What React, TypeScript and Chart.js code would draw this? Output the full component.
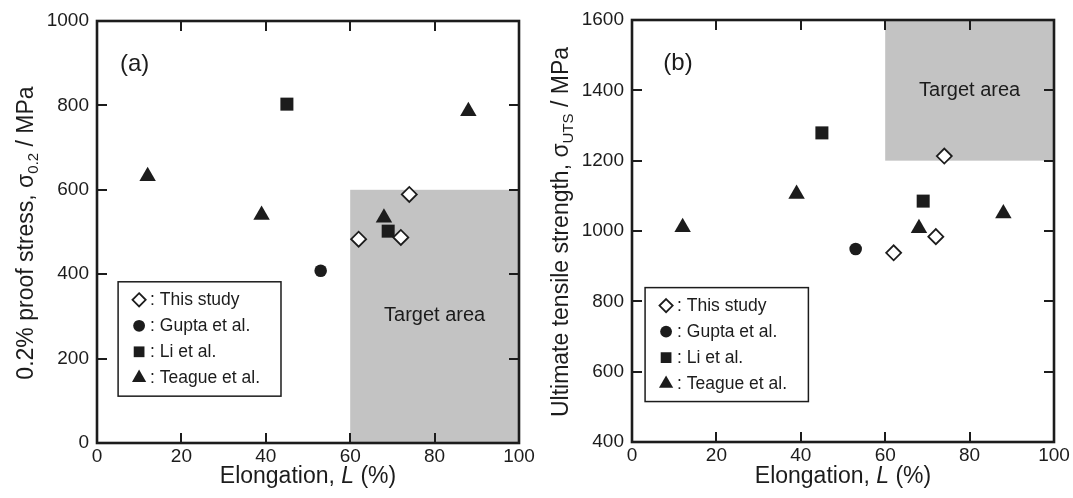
import React, { useEffect, useRef } from 'react';
import { Chart, registerables } from 'chart.js';
Chart.register(...registerables);

const FONT = '"Liberation Sans", Arimo, Arial, sans-serif';
const INK = '#1c1c1c';

// ---- data ----
const seriesNames = ['This study', 'Gupta et al.', 'Li et al.', 'Teague et al.'];

const xTicks = [0, 20, 40, 60, 80, 100];
const yTicksA = [0, 200, 400, 600, 800, 1000];
const yTicksB = [400, 600, 800, 1000, 1200, 1400, 1600];

const thisStudyL = [62, 72, 74];
const thisStudyProof = [483, 487, 589];
const thisStudyUTS = [938, 984, 1213];

const guptaL = [53];
const guptaProof = [408];
const guptaUTS = [949];

const liL = [45, 69];
const liProof = [803, 502];
const liUTS = [1279, 1085];

const teagueL = [12, 39, 68, 88];
const teagueProof = [632, 540, 534, 786];
const teagueUTS = [1011, 1105, 1008, 1050];

const targetA = { xMin: 60, xMax: 100, yMin: 0, yMax: 600 };
const targetB = { xMin: 60, xMax: 100, yMin: 1200, yMax: 1600 };

// ---- marker styles ----
const markerStyles = [
  { pointStyle: 'rectRot', radius: 7.5, fill: '#ffffff', stroke: INK, lw: 1.8 },
  { pointStyle: 'circle', radius: 6.3, fill: INK, stroke: INK, lw: 0 },
  { pointStyle: 'rect', radius: 9.2, fill: INK, stroke: INK, lw: 0 },
  { pointStyle: 'triangle', radius: 9.5, fill: INK, stroke: INK, lw: 0 },
];
const legendRadii = [6.6, 5.9, 7.6, 8.2];

function drawMarker(ctx: CanvasRenderingContext2D, m: any, r: number, x: number, y: number) {
  ctx.save();
  ctx.beginPath();
  if (m.pointStyle === 'circle') ctx.arc(x, y, r, 0, Math.PI * 2);
  else if (m.pointStyle === 'rect') {
    const s = r * Math.SQRT1_2;
    ctx.rect(x - s, y - s, 2 * s, 2 * s);
  } else if (m.pointStyle === 'rectRot') {
    ctx.moveTo(x, y - r);
    ctx.lineTo(x + r, y);
    ctx.lineTo(x, y + r);
    ctx.lineTo(x - r, y);
    ctx.closePath();
  } else {
    const a = (2 * Math.PI) / 3;
    ctx.moveTo(x, y - r);
    ctx.lineTo(x + r * Math.sin(a), y - r * Math.cos(a));
    ctx.lineTo(x + r * Math.sin(2 * a), y - r * Math.cos(2 * a));
    ctx.closePath();
  }
  ctx.fillStyle = m.fill;
  ctx.fill();
  if (m.lw > 0) {
    ctx.lineWidth = m.lw;
    ctx.strokeStyle = m.stroke;
    ctx.stroke();
  }
  ctx.restore();
}

type Part = { text: string; size: number; italic?: boolean; dy?: number };

function drawRich(ctx: CanvasRenderingContext2D, parts: Part[], cx: number, y: number) {
  const widths = parts.map((p) => {
    ctx.font = `${p.italic ? 'italic ' : ''}${p.size}px ${FONT}`;
    return ctx.measureText(p.text).width;
  });
  const total = widths.reduce((a, b) => a + b, 0);
  let x = cx - total / 2;
  ctx.textAlign = 'left';
  ctx.textBaseline = 'alphabetic';
  parts.forEach((p, i) => {
    ctx.font = `${p.italic ? 'italic ' : ''}${p.size}px ${FONT}`;
    ctx.fillText(p.text, x, y + (p.dy || 0));
    x += widths[i];
  });
}

function makeDecor(cfg: any) {
  return {
    id: 'decor',
    beforeDatasetsDraw(chart: any) {
      const { ctx } = chart;
      const x = chart.scales.x;
      const y = chart.scales.y;
      const t = cfg.target;
      const x0 = x.getPixelForValue(t.xMin);
      const x1 = x.getPixelForValue(t.xMax);
      const y0 = y.getPixelForValue(t.yMax);
      const y1 = y.getPixelForValue(t.yMin);
      ctx.save();
      ctx.fillStyle = '#c3c3c3';
      ctx.fillRect(x0, y0, x1 - x0, y1 - y0);
      ctx.fillStyle = INK;
      ctx.font = `20px ${FONT}`;
      ctx.textAlign = 'center';
      ctx.textBaseline = 'middle';
      ctx.fillText('Target area', x.getPixelForValue(cfg.targetText.x), y.getPixelForValue(cfg.targetText.y));
      ctx.restore();
    },
    afterDraw(chart: any) {
      const { ctx, chartArea: a } = chart;
      const x = chart.scales.x;
      const y = chart.scales.y;
      ctx.save();
      // inner ticks on all four sides
      ctx.strokeStyle = INK;
      ctx.lineWidth = 2;
      const tl = 10;
      ctx.beginPath();
      xTicks.forEach((v) => {
        const px = Math.round(x.getPixelForValue(v));
        ctx.moveTo(px, a.bottom);
        ctx.lineTo(px, a.bottom - tl);
        ctx.moveTo(px, a.top);
        ctx.lineTo(px, a.top + tl);
      });
      cfg.yTicks.forEach((v: number) => {
        const py = Math.round(y.getPixelForValue(v));
        ctx.moveTo(a.left, py);
        ctx.lineTo(a.left + tl, py);
        ctx.moveTo(a.right, py);
        ctx.lineTo(a.right - tl, py);
      });
      ctx.stroke();
      // frame
      ctx.lineWidth = 2.6;
      ctx.strokeRect(a.left, a.top, a.right - a.left, a.bottom - a.top);

      // panel label
      ctx.fillStyle = INK;
      ctx.font = `24px ${FONT}`;
      ctx.textAlign = 'center';
      ctx.textBaseline = 'middle';
      ctx.fillText(cfg.panel, x.getPixelForValue(cfg.panelPos.x), y.getPixelForValue(cfg.panelPos.y));

      // legend
      const lb = cfg.legendBox;
      const lx0 = x.getPixelForValue(lb.xMin);
      const lx1 = x.getPixelForValue(lb.xMax);
      const ly0 = y.getPixelForValue(lb.yMax);
      const ly1 = y.getPixelForValue(lb.yMin);
      ctx.fillStyle = '#ffffff';
      ctx.fillRect(lx0, ly0, lx1 - lx0, ly1 - ly0);
      ctx.lineWidth = 1.5;
      ctx.strokeStyle = INK;
      ctx.strokeRect(lx0, ly0, lx1 - lx0, ly1 - ly0);
      seriesNames.forEach((name, i) => {
        const ry = ly0 + 18 + i * 26;
        drawMarker(ctx, markerStyles[i], legendRadii[i], lx0 + 21, ry);
        ctx.fillStyle = INK;
        ctx.font = `17.5px ${FONT}`;
        ctx.textAlign = 'left';
        ctx.textBaseline = 'middle';
        ctx.fillText(': ' + name, lx0 + 32, ry + 0.5);
      });

      // x title
      ctx.fillStyle = INK;
      drawRich(
        ctx,
        [
          { text: 'Elongation, ', size: 23 },
          { text: 'L', size: 23, italic: true },
          { text: ' (%)', size: 23 },
        ],
        (a.left + a.right) / 2,
        483
      );
      // y title
      ctx.save();
      ctx.translate(cfg.yTitleX, (a.top + a.bottom) / 2 + 1);
      ctx.rotate(-Math.PI / 2);
      drawRich(ctx, cfg.yTitle, 0, 0);
      ctx.restore();
      ctx.restore();
    },
  };
}

function buildDatasets(vals: number[][]) {
  const Ls = [thisStudyL, guptaL, liL, teagueL];
  return seriesNames.map((name, i) => {
    const m = markerStyles[i];
    return {
      label: name,
      data: Ls[i].map((v, j) => ({ x: v, y: vals[i][j] })),
      pointStyle: m.pointStyle,
      pointRadius: m.radius,
      backgroundColor: m.fill,
      borderColor: m.stroke,
      borderWidth: m.lw,
      showLine: false,
    };
  });
}

function Panel(props: { left: number; width: number; cfg: any }) {
  const ref = useRef<HTMLCanvasElement>(null);
  const { cfg, width } = props;
  useEffect(() => {
    const tickFont = { family: FONT, size: 19 };
    const chart = new Chart(ref.current as HTMLCanvasElement, {
      type: 'scatter',
      data: { datasets: buildDatasets(cfg.values) as any },
      options: {
        animation: false,
        responsive: false,
        layout: { padding: { left: 0, right: cfg.padRight, top: cfg.padTop, bottom: 0 } },
        plugins: { legend: { display: false }, tooltip: { enabled: false } },
        scales: {
          x: {
            type: 'linear',
            min: 0,
            max: 100,
            afterBuildTicks: (s: any) => {
              s.ticks = xTicks.map((v) => ({ value: v }));
            },
            grid: { display: false, drawTicks: false },
            border: { display: false },
            ticks: {
              font: tickFont,
              color: INK,
              padding: 2,
              maxRotation: 0,
              autoSkip: false,
              callback: (v: any) => String(v),
            },
            afterFit: (s: any) => {
              s.height = cfg.xAxisH;
            },
          },
          y: {
            type: 'linear',
            min: cfg.yTicks[0],
            max: cfg.yTicks[cfg.yTicks.length - 1],
            afterBuildTicks: (s: any) => {
              s.ticks = cfg.yTicks.map((v: number) => ({ value: v }));
            },
            grid: { display: false, drawTicks: false },
            border: { display: false },
            ticks: {
              font: tickFont,
              color: INK,
              padding: 8,
              autoSkip: false,
              callback: (v: any) => String(v),
            },
            afterFit: (s: any) => {
              s.width = 97;
            },
          },
        },
      } as any,
      plugins: [makeDecor(cfg)],
    });
    return () => chart.destroy();
  }, []);
  return (
    <div style={{ position: 'absolute', left: props.left, top: 0, width, height: 498 }}>
      <canvas ref={ref} width={width} height={498} style={{ width, height: 498, display: 'block' }} />
    </div>
  );
}

const cfgA = {
  panel: '(a)',
  panelPos: { x: 8.9, y: 898 },
  values: [thisStudyProof, guptaProof, liProof, teagueProof],
  yTicks: yTicksA,
  target: targetA,
  targetText: { x: 80, y: 303 },
  legendBox: { xMin: 5.0, xMax: 43.6, yMin: 111, yMax: 382 },
  padTop: 21,
  padRight: 21,
  xAxisH: 55,
  yTitleX: 32.5,
  yTitle: [
    { text: '0.2% proof stress, σ', size: 23 },
    { text: '0.2', size: 15, dy: 5 },
    { text: ' / MPa', size: 23 },
  ],
};

const cfgB = {
  panel: '(b)',
  panelPos: { x: 10.9, y: 1476 },
  values: [thisStudyUTS, guptaUTS, liUTS, teagueUTS],
  yTicks: yTicksB,
  target: targetB,
  targetText: { x: 80, y: 1400 },
  legendBox: { xMin: 3.1, xMax: 41.8, yMin: 515, yMax: 839 },
  padTop: 20,
  padRight: 19,
  xAxisH: 56,
  yTitleX: 32.5,
  yTitle: [
    { text: 'Ultimate tensile strength, σ', size: 23 },
    { text: 'UTS', size: 15, dy: 5 },
    { text: ' / MPa', size: 23 },
  ],
};

export default function App() {
  useEffect(() => {
    document.body.style.margin = '0';
  }, []);
  return (
    <div style={{ position: 'relative', width: 1073, height: 498, background: '#fff', overflow: 'hidden' }}>
      <Panel left={0} width={540} cfg={cfgA} />
      <Panel left={535} width={538} cfg={cfgB} />
    </div>
  );
}
